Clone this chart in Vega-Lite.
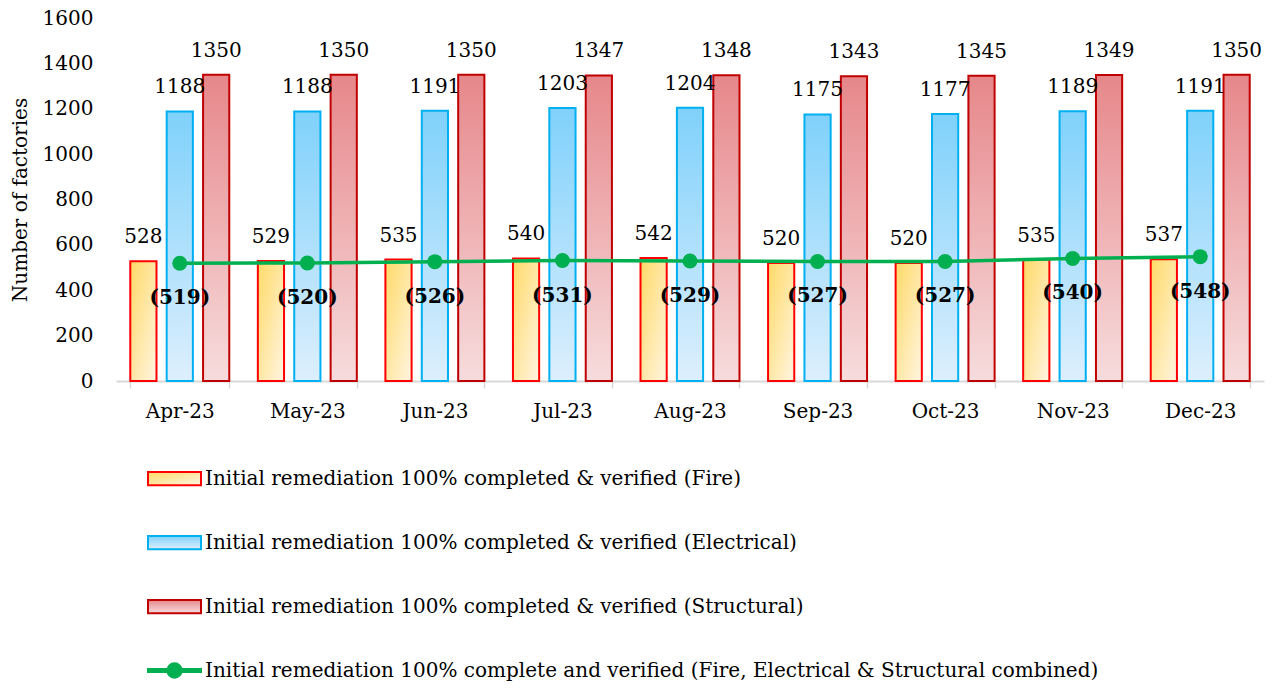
{
  "$schema": "https://vega.github.io/schema/vega-lite/v6.json",
  "width": 1148,
  "height": 363,
  "autosize": {"type": "none"},
  "padding": {"left": 116, "top": 18, "right": 10, "bottom": 308},
  "config": {
    "font": "DejaVu Serif",
    "view": {"stroke": null},
    "axis": {"labelFont": "DejaVu Serif", "titleFont": "DejaVu Serif", "labelColor": "#000", "titleColor": "#000"},
    "legend": {"labelFont": "DejaVu Serif"}
  },
  "data": {
    "values": [
      {"month": "Apr-23", "series": "Fire", "value": 528},
      {"month": "May-23", "series": "Fire", "value": 529},
      {"month": "Jun-23", "series": "Fire", "value": 535},
      {"month": "Jul-23", "series": "Fire", "value": 540},
      {"month": "Aug-23", "series": "Fire", "value": 542},
      {"month": "Sep-23", "series": "Fire", "value": 520},
      {"month": "Oct-23", "series": "Fire", "value": 520},
      {"month": "Nov-23", "series": "Fire", "value": 535},
      {"month": "Dec-23", "series": "Fire", "value": 537},
      {"month": "Apr-23", "series": "Electrical", "value": 1188},
      {"month": "May-23", "series": "Electrical", "value": 1188},
      {"month": "Jun-23", "series": "Electrical", "value": 1191},
      {"month": "Jul-23", "series": "Electrical", "value": 1203},
      {"month": "Aug-23", "series": "Electrical", "value": 1204},
      {"month": "Sep-23", "series": "Electrical", "value": 1175},
      {"month": "Oct-23", "series": "Electrical", "value": 1177},
      {"month": "Nov-23", "series": "Electrical", "value": 1189},
      {"month": "Dec-23", "series": "Electrical", "value": 1191},
      {"month": "Apr-23", "series": "Structural", "value": 1350},
      {"month": "May-23", "series": "Structural", "value": 1350},
      {"month": "Jun-23", "series": "Structural", "value": 1350},
      {"month": "Jul-23", "series": "Structural", "value": 1347},
      {"month": "Aug-23", "series": "Structural", "value": 1348},
      {"month": "Sep-23", "series": "Structural", "value": 1343},
      {"month": "Oct-23", "series": "Structural", "value": 1345},
      {"month": "Nov-23", "series": "Structural", "value": 1349},
      {"month": "Dec-23", "series": "Structural", "value": 1350},
      {"month": "Apr-23", "series": "Combined", "value": 519},
      {"month": "May-23", "series": "Combined", "value": 520},
      {"month": "Jun-23", "series": "Combined", "value": 526},
      {"month": "Jul-23", "series": "Combined", "value": 531},
      {"month": "Aug-23", "series": "Combined", "value": 529},
      {"month": "Sep-23", "series": "Combined", "value": 527},
      {"month": "Oct-23", "series": "Combined", "value": 527},
      {"month": "Nov-23", "series": "Combined", "value": 540},
      {"month": "Dec-23", "series": "Combined", "value": 548}
    ]
  },
  "encoding": {
    "x": {
      "field": "month", "type": "nominal", "sort": null,
      "scale": {"paddingInner": 0.224, "paddingOuter": 0.112},
      "axis": {
        "title": null, "labelAngle": 0, "labelFontSize": 20, "labelPadding": 13,
        "domainColor": "#d9d9d9", "domainWidth": 2, "tickColor": "#d9d9d9", "tickWidth": 1.5,
        "tickSize": 7, "tickBand": "extent"
      }
    },
    "y": {
      "field": "value", "type": "quantitative",
      "scale": {"domain": [0, 1600], "nice": false},
      "axis": {
        "title": "Number of factories", "titleFontSize": 20, "titleFontWeight": "normal", "titlePadding": 12,
        "values": [0, 200, 400, 600, 800, 1000, 1200, 1400, 1600], "format": "d",
        "labelFontSize": 20, "labelPadding": 23, "ticks": false, "tickSize": 0, "domain": false, "grid": false
      }
    }
  },
  "layer": [
    {
      "transform": [{"filter": "datum.series !== 'Combined'"}],
      "mark": {
        "type": "bar", "strokeWidth": 2,
        "fill": {"expr": "(datum.series || datum.value) === 'Fire' ? {gradient: 'linear', x1: 0, y1: 0, x2: 1, y2: 1, stops: [{offset: 0, color: '#ffd966'}, {offset: 1, color: '#fff5e2'}]} : (datum.series || datum.value) === 'Electrical' ? {gradient: 'linear', x1: 0, y1: 0, x2: 0, y2: 1, stops: [{offset: 0, color: '#7fd1fb'}, {offset: 1, color: '#ddeffd'}]} : (datum.series || datum.value) === 'Structural' ? {gradient: 'linear', x1: 0, y1: 0, x2: 0, y2: 1, stops: [{offset: 0, color: '#e6878a'}, {offset: 1, color: '#f7dcdd'}]} : '#00b050'"}
      },
      "encoding": {
        "xOffset": {"field": "series", "type": "nominal", "scale": {"domain": ["Fire", "Electrical", "Structural"], "paddingInner": 0.28, "paddingOuter": 0}},
        "stroke": {
          "field": "series", "type": "nominal",
          "scale": {"domain": ["Fire", "Electrical", "Structural", "Combined"], "range": ["#ff0000", "#00b0f0", "#c00000", "#00b050"]},
          "legend": {
            "title": null, "orient": "none", "legendX": 31, "legendY": 433, "direction": "vertical",
            "symbolSize": 2809, "symbolStrokeWidth": 2, "rowPadding": 25, "labelOffset": 3,
            "labelFontSize": 20, "labelLimit": 1200, "padding": 0,
            "symbolType": {"expr": "datum.value === 'Combined' ? 'M-1,-0.06H-0.27V0.06H-1Z M0.27,-0.06H1V0.06H0.27Z M0.27,0A0.27,0.27,0,1,1,-0.27,0A0.27,0.27,0,1,1,0.27,0Z' : 'M-1,-0.25H1V0.25H-1Z'"},
            "labelExpr": "datum.value === 'Fire' ? 'Initial remediation 100% completed & verified (Fire)' : datum.value === 'Electrical' ? 'Initial remediation 100% completed & verified (Electrical)' : datum.value === 'Structural' ? 'Initial remediation 100% completed & verified (Structural)' : 'Initial remediation 100% complete and verified (Fire, Electrical & Structural combined)'"
          }
        }
      }
    },
    {
      "transform": [{"filter": "datum.series !== 'Combined'"}],
      "mark": {"type": "text", "fontSize": 20, "baseline": "middle", "dy": -24, "color": "#000"},
      "encoding": {
        "xOffset": {"field": "series", "type": "nominal", "scale": {"domain": ["Fire", "Electrical", "Structural"], "paddingInner": 0.28, "paddingOuter": 0}},
        "text": {"field": "value", "type": "quantitative"}
      }
    },
    {
      "transform": [{"filter": "datum.series === 'Combined'"}],
      "mark": {"type": "line", "color": "#00b050", "strokeWidth": 3.5},
      "encoding": {}
    },
    {
      "transform": [{"filter": "datum.series === 'Combined'"}],
      "mark": {"type": "point", "shape": "circle", "filled": true, "color": "#00b050", "size": 225, "opacity": 1},
      "encoding": {}
    },
    {
      "transform": [{"filter": "datum.series === 'Combined'"}],
      "mark": {"type": "text", "fontSize": 20, "fontWeight": "bold", "baseline": "middle", "dy": 35, "color": "#000", "text": {"expr": "'(' + datum.value + ')'"}},
      "encoding": {}
    }
  ]
}
